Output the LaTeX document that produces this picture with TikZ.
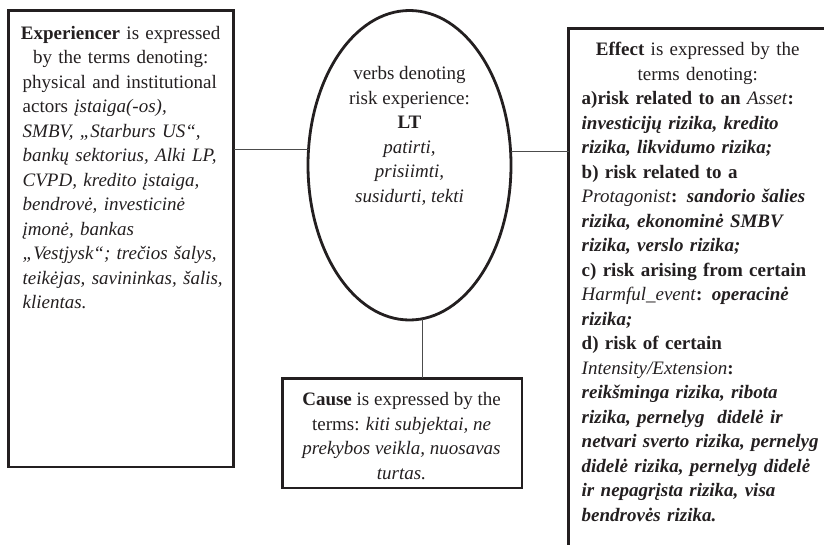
\documentclass[tikz,border=0pt]{standalone}
\usepackage{fontspec}
\setmainfont{Liberation Serif}
\usetikzlibrary{shapes.geometric}

\definecolor{ink}{HTML}{231F20}

\tikzset{
  frame/.style={draw=ink, line width=2.8pt, outer sep=0pt, inner sep=0pt},
  boxframe/.style={frame, rectangle},
  ovalframe/.style={frame, ellipse},
  label text/.style={inner sep=0pt, outer sep=0pt, text=ink,
    font=\fontsize{19}{24.5}\selectfont},
  link/.style={draw=black!70, line width=1.1pt}
}

\begin{document}
\begin{tikzpicture}[x=1pt, y=-1pt]
  \useasboundingbox (0,0) rectangle (824,544);
  \clip (0,0) rectangle (824,544);

  % frames
  \node[boxframe, minimum width=225pt, minimum height=456.2pt]
    (exp) at (121,238.9) {};
  \node[ovalframe, minimum width=203pt, minimum height=309.5pt]
    (verb) at (409.5,165.25) {};
  \node[boxframe, minimum width=239.3pt, minimum height=109.7pt]
    (cause) at (402.3,433.2) {};
  \node[boxframe, minimum width=266.3pt, minimum height=531.3pt]
    (eff) at (701.85,294.35) {};

  % Experiencer
  \node[label text, text width=215pt, align=left, anchor=north west]
    (exptext) at (22.7,26.3) {%
    \makebox[196pt]{\textbf{Experiencer} is expressed}\\
    \makebox[196pt]{by the terms denoting:}\\
    physical and institutional\\
    actors \textit{įstaiga(-os),}\\
    \textit{SMBV, „Starburs US“,}\\
    \textit{bankų sektorius, Alki LP,}\\
    \textit{CVPD, kredito įstaiga,}\\
    \textit{bendrovė, investicinė}\\
    \textit{įmonė, bankas}\\
    \textit{„Vestjysk“; trečios šalys,}\\
    \textit{teikėjas, savininkas, šalis,}\\
    \textit{klientas.}};

  % verbs
  \node[label text, align=center, anchor=north]
    (verbtext) at (409.5,66.5) {%
    verbs denoting\\
    risk experience:\\
    \textbf{LT}\\
    \textit{patirti,}\\
    \textit{prisiimti,}\\
    \textit{susidurti, tekti}};

  % Cause
  \node[label text, align=center, anchor=north]
    (causetext) at (401.5,392.5) {%
    \textbf{Cause} is expressed by the\\
    terms: \textit{kiti subjektai, ne}\\
    \textit{prekybos veikla, nuosavas}\\
    \textit{turtas.}};

  % Effect
  \node[label text, text width=250pt, align=left, anchor=north west]
    (efftext) at (581.7,42.3) {%
    \makebox[232pt]{\textbf{Effect} is expressed by the}\\
    \makebox[232pt]{terms denoting:}\\
    \textbf{a)risk related to an \textmd{\textit{Asset}}:}\\
    \textbf{\textit{investicijų rizika, kredito}}\\
    \textbf{\textit{rizika, likvidumo rizika;}}\\
    \textbf{b) risk related to a}\\
    \textit{Protagonist}\textbf{: \textit{sandorio šalies}}\\
    \textbf{\textit{rizika, ekonominė SMBV}}\\
    \textbf{\textit{rizika, verslo rizika;}}\\
    \textbf{c) risk arising from certain}\\
    \textit{Harmful\_event}\textbf{: \textit{operacinė}}\\
    \textbf{\textit{rizika;}}\\
    \textbf{d) risk of certain}\\
    \textit{Intensity/Extension}\textbf{:}\\
    \textbf{\textit{reikšminga rizika, ribota}}\\
    \textbf{\textit{rizika, pernelyg\ \ didelė ir}}\\
    \textbf{\textit{netvari sverto rizika, pernelyg}}\\
    \textbf{\textit{didelė rizika, pernelyg didelė}}\\
    \textbf{\textit{ir nepagrįsta rizika, visa}}\\
    \textbf{\textit{bendrovės rizika.}}};

  % connectors
  \draw[link] (exp.east |- verb.171.4) -- (verb.171.4);
  \draw[link] (verb.8.6) -- (verb.8.6 -| eff.west);
  \draw[link] (verb.275.8) -- (verb.275.8 |- cause.north);
\end{tikzpicture}
\end{document}
